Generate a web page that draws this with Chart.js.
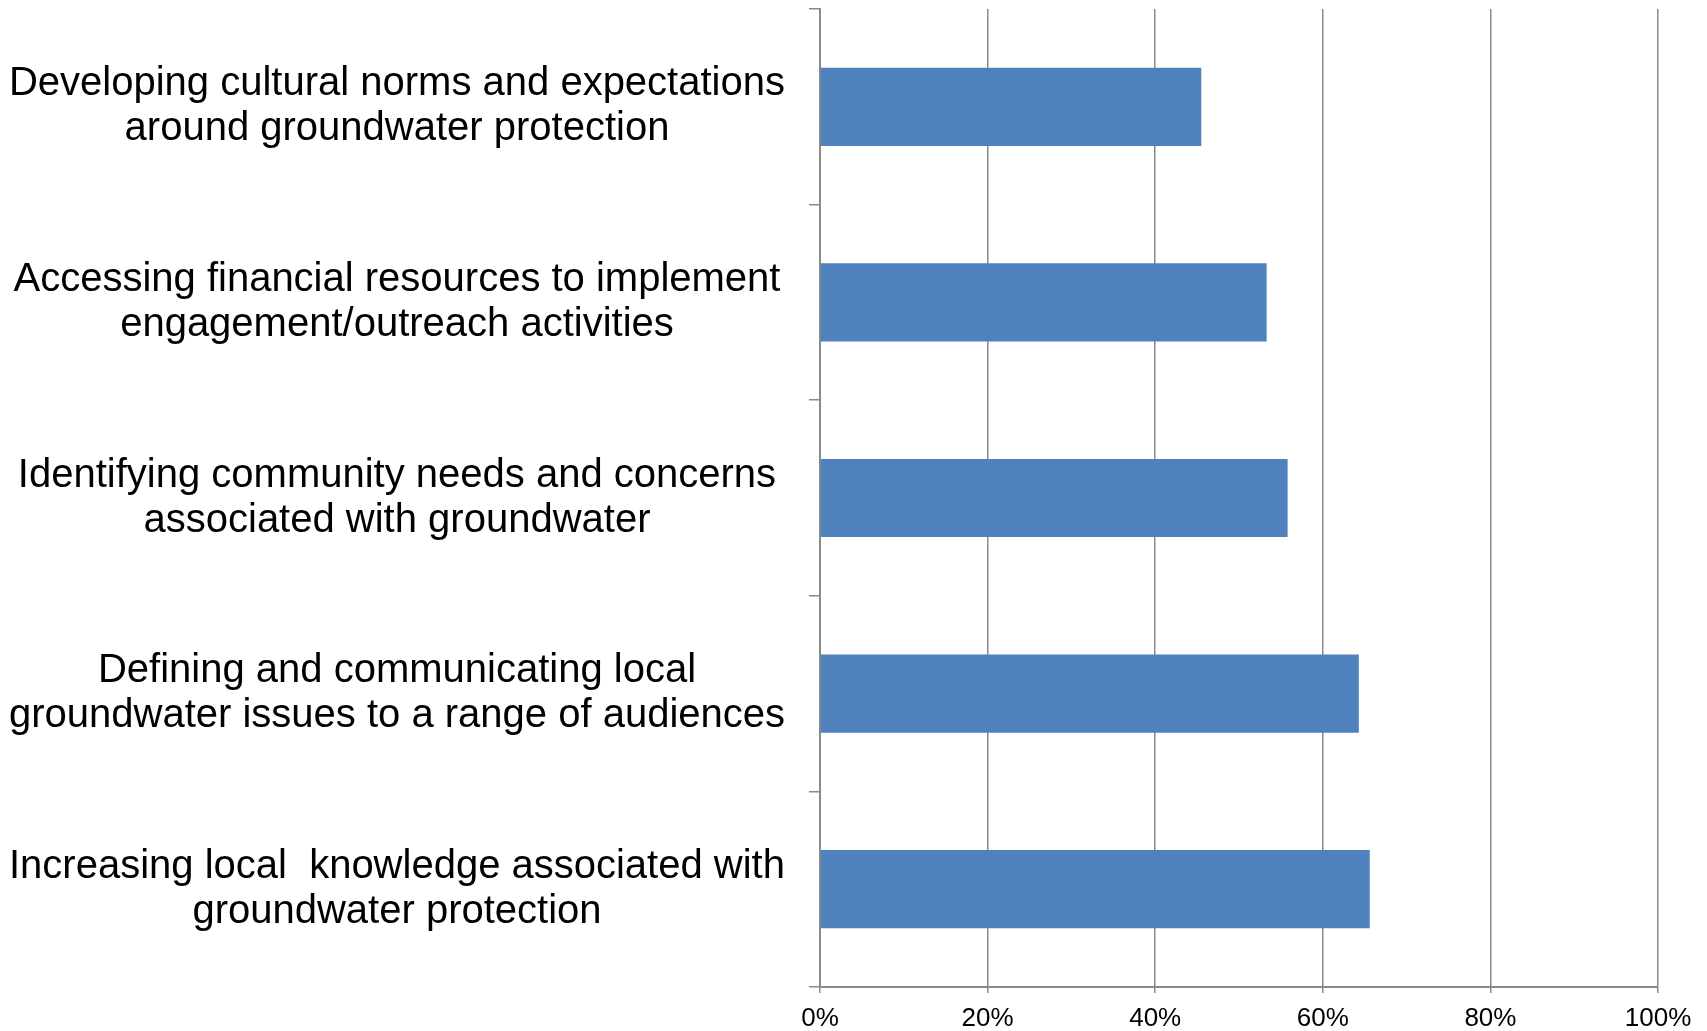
<!DOCTYPE html>
<html>
<head>
<meta charset="utf-8">
<script src="https://cdn.jsdelivr.net/npm/chart.js@4.4.0/dist/chart.umd.min.js"></script>
<style>
  html, body { margin: 0; padding: 0; background: #fff; }
  #wrap { width: 1707px; height: 1031px; }
</style>
</head>
<body>
<div id="wrap"><canvas id="myChart" width="1707" height="1031"></canvas></div>
<script>
// DATA
const categories = [
    ['Developing cultural norms and expectations', 'around groundwater protection'],
    ['Accessing financial resources to implement', 'engagement/outreach activities'],
    ['Identifying community needs and concerns', 'associated with groundwater'],
    ['Defining and communicating local', 'groundwater issues to a range of audiences'],
    ['Increasing local  knowledge associated with', 'groundwater protection']
];
const percentValues = [45.5, 53.3, 55.8, 64.3, 65.6];
const xTicks = [0, 20, 40, 60, 80, 100];

const gridGray = '#8a8a8a';

// CHART JS
const ctx = document.getElementById('myChart').getContext('2d');
const myChart = new Chart(ctx, {
    type: 'bar',
    data: {
        labels: categories,
        datasets: [{
            data: percentValues,
            backgroundColor: '#4f81bd',
            borderWidth: 0,
            barPercentage: 0.4,
            categoryPercentage: 1
        }]
    },
    options: {
        indexAxis: 'y',
        responsive: false,
        animation: false,
        layout: {
            padding: { top: 9, right: 49, left: 0, bottom: 0 }
        },
        plugins: {
            legend: { display: false },
            tooltip: { enabled: false }
        },
        scales: {
            x: {
                min: xTicks[0],
                max: xTicks[xTicks.length - 1],
                afterBuildTicks: function(scale) {
                    scale.ticks = xTicks.map(v => ({ value: v }));
                },
                afterFit: function(scale) { scale.height = 44; },
                grid: {
                    color: gridGray,
                    lineWidth: 1.5,
                    tickLength: 6
                },
                border: { color: gridGray, width: 2 },
                ticks: {
                    color: '#000',
                    padding: 10,
                    font: { family: 'Liberation Sans', size: 26 },
                    callback: function(v) { return v + '%'; }
                }
            },
            y: {
                afterFit: function(scale) {
                    scale.width = 820;
                    scale.paddingTop = 0;
                    scale.paddingBottom = 0;
                },
                grid: {
                    offset: true,
                    drawOnChartArea: false,
                    color: gridGray,
                    lineWidth: 1.5,
                    tickLength: 11
                },
                border: { color: gridGray, width: 2 },
                ticks: {
                    color: '#000',
                    crossAlign: 'center',
                    padding: 24,
                    font: { family: 'Liberation Sans', size: 40, lineHeight: 1.125 }
                }
            }
        }
    }
});
</script>
</body>
</html>
